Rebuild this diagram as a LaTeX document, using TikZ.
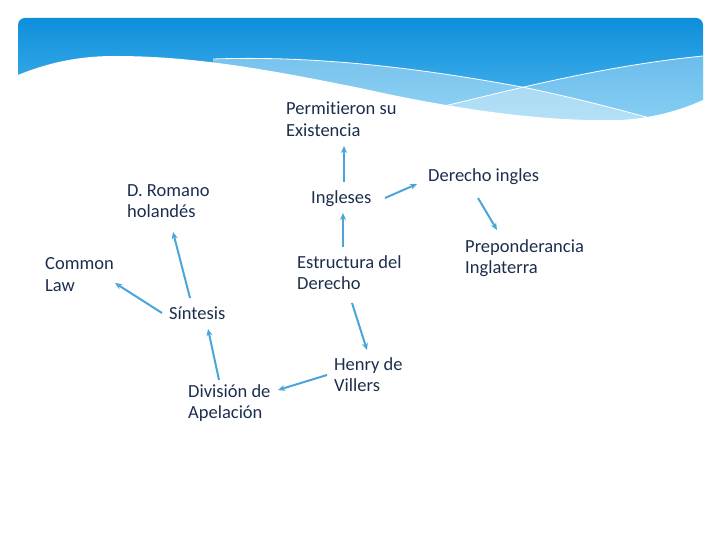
\documentclass[tikz,border=0pt]{standalone}
\usepackage{fontspec}
\setmainfont{Carlito}[Ligatures=NoCommon]
\usetikzlibrary{arrows.meta,calc}
\definecolor{txt}{RGB}{28,46,78}
\definecolor{arr}{RGB}{74,165,218}
\definecolor{bantop}{RGB}{14,142,219}
\definecolor{banbot}{RGB}{90,192,243}
\tikzset{
  lbl/.style={anchor=west, inner sep=0pt, align=left, text=txt, font=\fontsize{18.5}{21.5}\selectfont},
  conn/.style={draw=arr, line width=2pt, -{Stealth[length=7pt,width=6pt]}},
}
\begin{document}
\begin{tikzpicture}[x=1pt,y=-1pt]
\useasboundingbox (0,0) rectangle (720,540);
% banner
\begin{scope}
  \clip[rounded corners=7pt] (18,18) rectangle (703,140);
  \shade[top color=bantop, bottom color=banbot] (18,18) rectangle (703,140);
  % light band under line 1
  \fill[white, opacity=0.38] (213,59) .. controls (300,56) and (400,64) .. (527,88)
     .. controls (580,99) and (620,110) .. (650,118) -- (703,140) -- (213,140) -- cycle;
  % light band under line 2
  \fill[white, opacity=0.32] (440,107) .. controls (500,93) and (600,66) .. (703,56)
     -- (703,140) -- (440,140) -- cycle;
  \draw[white, line width=0.8pt] (213,59) .. controls (300,56) and (400,64) .. (527,88)
     .. controls (580,99) and (620,110) .. (650,118);
  \draw[white, line width=0.8pt] (440,107) .. controls (500,93) and (600,66) .. (703,56);
\end{scope}
% white wave (below the banner)
\fill[white] (10,78) -- (18,75) .. controls (50,62) and (80,56) .. (115,56)
   .. controls (200,56) and (280,72) .. (360,88)
   .. controls (450,108) and (540,122) .. (620,120)
   .. controls (660,118) and (690,106) .. (703,100) -- (712,98) -- (712,150) -- (10,150) -- cycle;
% labels
\node[lbl] (perm) at (286,119) {Permitieron su\\Existencia};
\node[lbl] (rom)  at (127,201) {D. Romano\\holandés};
\node[lbl] (ingl) at (311,199) {Ingleses};
\node[lbl] (der)  at (428,177) {Derecho ingles};
\node[lbl] (com)  at (45,274.5) {Common\\Law};
\node[lbl] (estr) at (297,272.5) {Estructura del\\Derecho};
\node[lbl] (prep) at (465,258) {Preponderancia\\Inglaterra};
\node[lbl] (sint) at (169,313) {Síntesis};
\node[lbl] (div)  at (188,403) {División de\\Apelación};
\node[lbl] (hen)  at (334,374.5) {Henry de\\Villers};
% connectors
\draw[conn] ($(ingl.west)+(33,-17)$) -- ($(perm.west)+(58,27)$);
\draw[conn] ($(estr.west)+(46,-25.5)$) -- ($(ingl.west)+(32,14)$);
\draw[conn] ($(ingl.west)+(74,-1)$) -- ($(der.west)+(-11,7)$);
\draw[conn] ($(der.west)+(50,21)$) -- ($(prep.west)+(32,-28)$);
\draw[conn] ($(estr.west)+(55,30.5)$) -- ($(hen.west)+(33,-24.5)$);
\draw[conn] ($(hen.west)+(-7,0.5)$) -- ($(div.west)+(90,-13)$);
\draw[conn] ($(div.west)+(31,-23)$) -- ($(sint.west)+(39,16)$);
\draw[conn] ($(sint.west)+(21,-15)$) -- ($(rom.west)+(46,31)$);
\draw[conn] ($(sint.west)+(-7,0)$) -- ($(com.west)+(70,8.5)$);
\end{tikzpicture}
\end{document}
